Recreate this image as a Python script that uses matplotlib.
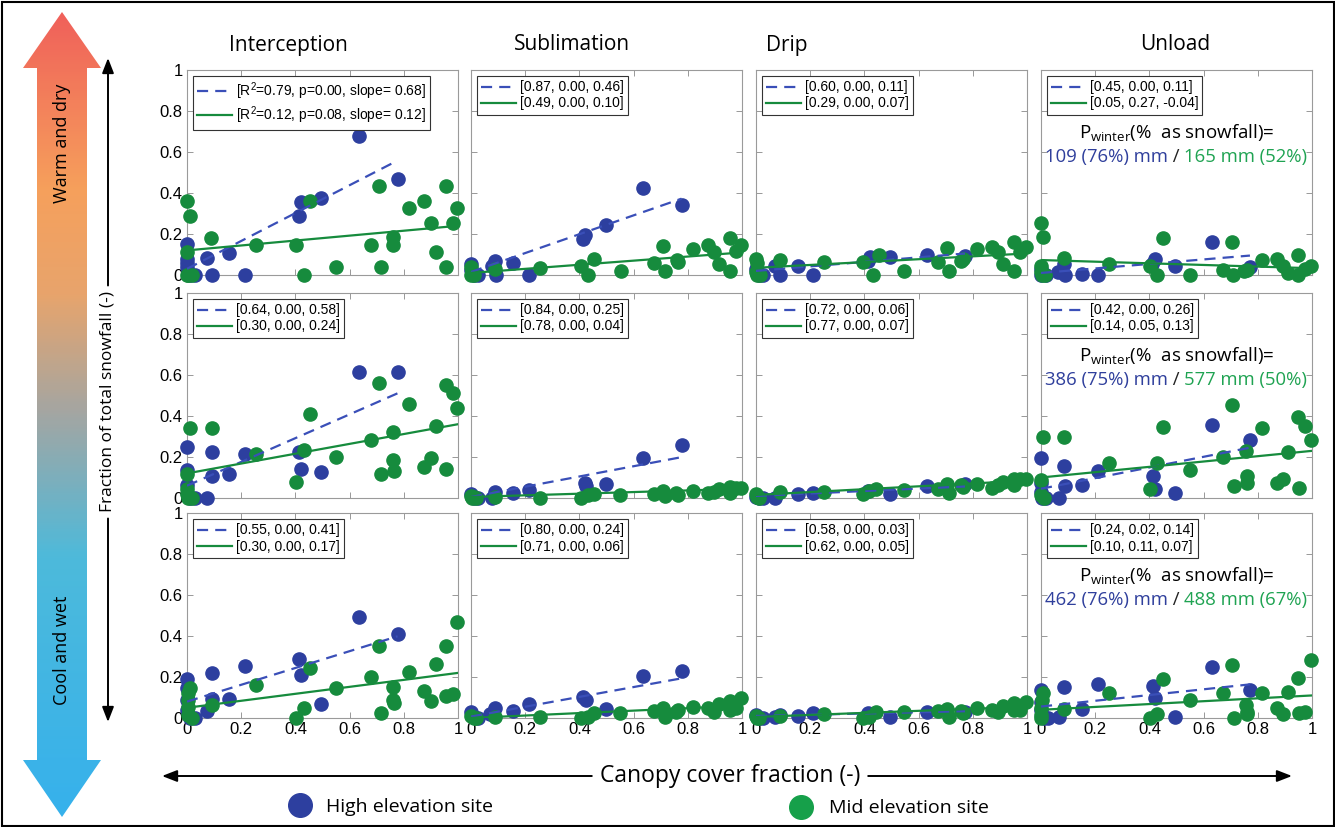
import numpy as np
import matplotlib
matplotlib.use("Agg")
import matplotlib.pyplot as plt
from matplotlib.patches import Polygon, Rectangle
from matplotlib.colors import LinearSegmentedColormap

plt.rcParams['mathtext.default'] = 'regular'

# ---------------- data ----------------
processes = ["Interception", "Sublimation", "Drip", "Unload"]
tick_vals = [0, 0.2, 0.4, 0.6, 0.8, 1]
tick_labels = ["0", "0.2", "0.4", "0.6", "0.8", "1"]

# Row 1 (warm and dry)
int1_hx = [0, 0, 0, 0, 0.01, 0.03, 0.073, 0.091, 0.156, 0.215, 0.415, 0.42, 0.496, 0.635, 0.777]
int1_hy = [0.15, 0.078, 0.058, 0.04, 0, 0, 0.084, 0, 0.105, 0, 0.288, 0.356, 0.377, 0.68, 0.466]
int1_mx = [0, 0.01, 0, 0, 0.005, 0.017, 0.09, 0.254, 0.404, 0.43, 0.455, 0.55, 0.678, 0.709, 0.715, 0.76, 0.76, 0.82, 0.875, 0.9, 0.918, 0.955, 0.955, 0.98, 0.996]
int1_my = [0.36, 0.29, 0.11, 0, 0, 0, 0.18, 0.146, 0.146, 0, 0.36, 0.037, 0.146, 0.434, 0.037, 0.183, 0.146, 0.325, 0.36, 0.256, 0.11, 0.434, 0.037, 0.256, 0.325]

sub1_hx = [0, 0, 0.01, 0.027, 0.076, 0.089, 0.091, 0.156, 0.215, 0.414, 0.42, 0.498, 0.636, 0.777]
sub1_hy = [0.053, 0.026, 0, 0, 0.042, 0.07, 0, 0.058, 0, 0.175, 0.196, 0.243, 0.426, 0.341]
sub1_mx = [0, 0.005, 0.01, 0, 0.089, 0.255, 0.406, 0.433, 0.455, 0.552, 0.677, 0.71, 0.716, 0.759, 0.763, 0.82, 0.876, 0.898, 0.915, 0.956, 0.956, 0.978, 0.996]
sub1_my = [0.04, 0.015, 0, 0, 0.03, 0.034, 0.045, 0, 0.08, 0.02, 0.058, 0.14, 0.02, 0.075, 0.062, 0.126, 0.147, 0.113, 0.053, 0.18, 0.02, 0.118, 0.147]

dri1_hx = [0, 0.01, 0.027, 0.07, 0.09, 0.154, 0.212, 0.415, 0.42, 0.494, 0.63, 0.771]
dri1_hy = [0.03, 0, 0, 0.042, 0, 0.042, 0, 0.07, 0.086, 0.086, 0.1, 0.094]
dri1_mx = [0, 0.005, 0, 0.005, 0.015, 0.089, 0.252, 0.394, 0.43, 0.455, 0.546, 0.673, 0.706, 0.712, 0.755, 0.762, 0.817, 0.872, 0.894, 0.912, 0.952, 0.952, 0.974, 0.995]
dri1_my = [0.078, 0.058, 0.013, 0, 0, 0.074, 0.061, 0.065, 0, 0.1, 0.02, 0.061, 0.134, 0.02, 0.07, 0.08, 0.126, 0.139, 0.113, 0.053, 0.162, 0.02, 0.113, 0.139]

unl1_hx = [0, 0, 0.02, 0.064, 0.086, 0.089, 0.15, 0.212, 0.408, 0.42, 0.494, 0.63, 0.771]
unl1_hy = [0.03, 0, 0, 0.013, 0.053, 0, 0.005, 0, 0.053, 0.078, 0.045, 0.163, 0.037]
unl1_mx = [0, 0.006, 0, 0, 0.015, 0.003, 0.086, 0.252, 0.402, 0.427, 0.451, 0.548, 0.673, 0.703, 0.71, 0.749, 0.759, 0.817, 0.87, 0.894, 0.91, 0.95, 0.95, 0.974, 0.995]
unl1_my = [0.252, 0.183, 0.045, 0.013, 0, 0, 0.081, 0.052, 0.042, 0, 0.181, 0, 0.026, 0.162, 0, 0.02, 0.026, 0.074, 0.078, 0.042, 0.008, 0.097, 0, 0.03, 0.045]

# Row 2
int2_hx = [0, 0, 0, 0.01, 0.03, 0.073, 0.091, 0.091, 0.156, 0.215, 0.415, 0.422, 0.496, 0.635, 0.777]
int2_hy = [0.248, 0.136, 0.062, 0, 0, 0, 0.222, 0.108, 0.117, 0.215, 0.223, 0.141, 0.128, 0.617, 0.617]
int2_mx = [0.011, 0, 0, 0, 0.005, 0.017, 0.091, 0.254, 0.404, 0.43, 0.455, 0.55, 0.678, 0.709, 0.715, 0.76, 0.76, 0.765, 0.82, 0.875, 0.9, 0.918, 0.955, 0.955, 0.98, 0.996]
int2_my = [0.342, 0.115, 0.046, 0.02, 0, 0, 0.342, 0.217, 0.076, 0.232, 0.412, 0.199, 0.282, 0.563, 0.115, 0.322, 0.186, 0.133, 0.46, 0.149, 0.194, 0.35, 0.552, 0.141, 0.514, 0.44]

sub2_hx = [0, 0.01, 0.027, 0.076, 0.089, 0.156, 0.215, 0.42, 0.424, 0.498, 0.636, 0.777]
sub2_hy = [0.021, 0, 0, 0, 0.03, 0.026, 0.038, 0.071, 0.059, 0.067, 0.194, 0.259]
sub2_mx = [0, 0.005, 0.01, 0.02, 0.089, 0.255, 0.406, 0.433, 0.455, 0.55, 0.677, 0.71, 0.716, 0.755, 0.763, 0.82, 0.876, 0.898, 0.915, 0.956, 0.956, 0.978, 0.996]
sub2_my = [0.01, 0, 0.005, 0, 0.005, 0.002, 0, 0.013, 0.018, 0.013, 0.02, 0.033, 0.01, 0.026, 0.016, 0.034, 0.025, 0.03, 0.043, 0.054, 0.025, 0.051, 0.051]

dri2_hx = [0, 0.01, 0.027, 0.07, 0.154, 0.212, 0.415, 0.494, 0.63, 0.771]
dri2_hy = [0.005, 0, 0, 0, 0.021, 0.026, 0.034, 0.021, 0.057, 0.07]
dri2_mx = [0, 0.005, 0.01, 0.089, 0.252, 0.394, 0.418, 0.443, 0.546, 0.673, 0.706, 0.712, 0.755, 0.762, 0.817, 0.872, 0.894, 0.912, 0.952, 0.952, 0.974, 0.995]
dri2_my = [0.021, 0.005, 0, 0.03, 0.03, 0.021, 0.033, 0.043, 0.038, 0.046, 0.066, 0.025, 0.062, 0.054, 0.07, 0.049, 0.062, 0.079, 0.095, 0.062, 0.092, 0.095]

unl2_hx = [0, 0, 0, 0.005, 0.02, 0.068, 0.086, 0.089, 0.15, 0.212, 0.412, 0.42, 0.494, 0.63, 0.771]
unl2_hy = [0.194, 0.071, 0.03, 0, 0, 0, 0.158, 0.059, 0.062, 0.133, 0.108, 0.046, 0.026, 0.355, 0.281]
unl2_mx = [0.006, 0, 0, 0.01, 0.086, 0.251, 0.402, 0.427, 0.451, 0.548, 0.673, 0.703, 0.713, 0.755, 0.759, 0.759, 0.817, 0.87, 0.894, 0.91, 0.95, 0.952, 0.974, 0.995]
unl2_my = [0.297, 0.087, 0.013, 0, 0.296, 0.172, 0.043, 0.172, 0.345, 0.136, 0.199, 0.456, 0.059, 0.227, 0.108, 0.071, 0.342, 0.071, 0.095, 0.223, 0.394, 0.049, 0.35, 0.281]

# Row 3 (cool and wet)
int3_hx = [0, 0, 0, 0, 0.01, 0.03, 0.073, 0.091, 0.091, 0.156, 0.215, 0.412, 0.422, 0.496, 0.635, 0.777]
int3_hy = [0.19, 0.145, 0.088, 0.039, 0, 0, 0.036, 0.218, 0.091, 0.093, 0.255, 0.286, 0.21, 0.067, 0.494, 0.408]
int3_mx = [0.011, 0.005, 0.005, 0.005, 0.005, 0.017, 0.091, 0.254, 0.404, 0.43, 0.455, 0.55, 0.678, 0.709, 0.715, 0.76, 0.76, 0.765, 0.82, 0.875, 0.9, 0.918, 0.955, 0.955, 0.98, 0.996]
int3_my = [0.145, 0.12, 0.088, 0.055, 0.015, 0, 0.063, 0.161, 0, 0.047, 0.246, 0.145, 0.202, 0.351, 0.023, 0.153, 0.088, 0.072, 0.223, 0.133, 0.085, 0.262, 0.353, 0.107, 0.117, 0.47]

sub3_hx = [0, 0.01, 0.027, 0.07, 0.089, 0.156, 0.215, 0.414, 0.424, 0.498, 0.636, 0.777]
sub3_hy = [0.031, 0.007, 0, 0.018, 0.047, 0.034, 0.067, 0.104, 0.088, 0.042, 0.207, 0.231]
sub3_mx = [0, 0.01, 0.02, 0.089, 0.255, 0.406, 0.433, 0.455, 0.55, 0.677, 0.71, 0.716, 0.755, 0.763, 0.82, 0.876, 0.898, 0.915, 0.956, 0.956, 0.978, 0.996]
sub3_my = [0.01, 0, 0, 0.003, 0.007, 0, 0.007, 0.023, 0.023, 0.036, 0.047, 0.007, 0.028, 0.039, 0.052, 0.047, 0.031, 0.068, 0.083, 0.039, 0.047, 0.099]

dri3_hx = [0, 0.01, 0.027, 0.07, 0.089, 0.154, 0.212, 0.415, 0.494, 0.63, 0.771]
dri3_hy = [0.015, 0, 0, 0.007, 0.015, 0.01, 0.023, 0.023, 0.007, 0.031, 0.031]
dri3_mx = [0, 0.005, 0.01, 0.089, 0.252, 0.394, 0.418, 0.443, 0.546, 0.673, 0.706, 0.712, 0.755, 0.762, 0.817, 0.872, 0.894, 0.912, 0.952, 0.952, 0.974, 0.995]
dri3_my = [0.01, 0, 0, 0.01, 0.018, 0, 0.007, 0.031, 0.028, 0.036, 0.044, 0.007, 0.036, 0.023, 0.047, 0.039, 0.028, 0.06, 0.075, 0.039, 0.039, 0.08]

unl3_hx = [0, 0, 0, 0.01, 0.027, 0.068, 0.085, 0.15, 0.21, 0.412, 0.42, 0.494, 0.63, 0.771]
unl3_hy = [0.137, 0.08, 0.04, 0, 0, 0.007, 0.153, 0.044, 0.164, 0.156, 0.096, 0.007, 0.247, 0.137]
unl3_mx = [0.006, 0.003, 0, 0, 0, 0.086, 0.251, 0.402, 0.427, 0.451, 0.548, 0.673, 0.703, 0.713, 0.755, 0.759, 0.759, 0.817, 0.87, 0.894, 0.91, 0.95, 0.952, 0.974, 0.995]
unl3_my = [0.12, 0.088, 0.047, 0.015, 0, 0.042, 0.124, 0, 0.018, 0.189, 0.088, 0.124, 0.259, 0, 0.062, 0.028, 0.018, 0.12, 0.047, 0.018, 0.125, 0.193, 0.023, 0.028, 0.283]

# regression statistics [R2, p, slope] (rows x processes) and intercepts
high_r2 = [[0.79, 0.87, 0.60, 0.45], [0.64, 0.84, 0.72, 0.42], [0.55, 0.80, 0.58, 0.24]]
high_p = [[0.00, 0.00, 0.00, 0.00], [0.00, 0.00, 0.00, 0.00], [0.00, 0.00, 0.00, 0.02]]
high_slope = [[0.68, 0.46, 0.11, 0.11], [0.58, 0.25, 0.06, 0.26], [0.41, 0.24, 0.03, 0.14]]
high_icpt = [[0.03, 0.015, 0.02, 0.01], [0.06, 0.005, 0.01, 0.045], [0.08, 0.007, 0.01, 0.056]]
mid_r2 = [[0.12, 0.49, 0.29, 0.05], [0.30, 0.78, 0.77, 0.14], [0.30, 0.71, 0.62, 0.10]]
mid_p = [[0.08, 0.00, 0.00, 0.27], [0.00, 0.00, 0.00, 0.05], [0.00, 0.00, 0.00, 0.11]]
mid_slope = [[0.12, 0.10, 0.07, -0.04], [0.24, 0.04, 0.07, 0.13], [0.17, 0.06, 0.05, 0.07]]
mid_icpt = [[0.12, 0.01, 0.035, 0.073], [0.12, 0.005, 0.015, 0.10], [0.05, 0.0, 0.005, 0.04]]

# winter precipitation per row
p_high = [109, 386, 462]
pct_high = [76, 75, 76]
p_mid = [165, 577, 488]
pct_mid = [52, 50, 67]

high_x = [[int1_hx, sub1_hx, dri1_hx, unl1_hx], [int2_hx, sub2_hx, dri2_hx, unl2_hx], [int3_hx, sub3_hx, dri3_hx, unl3_hx]]
high_y = [[int1_hy, sub1_hy, dri1_hy, unl1_hy], [int2_hy, sub2_hy, dri2_hy, unl2_hy], [int3_hy, sub3_hy, dri3_hy, unl3_hy]]
mid_x = [[int1_mx, sub1_mx, dri1_mx, unl1_mx], [int2_mx, sub2_mx, dri2_mx, unl2_mx], [int3_mx, sub3_mx, dri3_mx, unl3_mx]]
mid_y = [[int1_my, sub1_my, dri1_my, unl1_my], [int2_my, sub2_my, dri2_my, unl2_my], [int3_my, sub3_my, dri3_my, unl3_my]]

# ---------------- style ----------------
BLUE = '#2d3f9f'
GREEN = '#168b3d'
BLUE_T = '#2f3f9c'
GREEN_T = '#1fa352'
SPINE = '#9a9a9a'
TEXTFONT = 'Open Sans'
AXFONT = 'Liberation Sans'

W, H = 1335, 827
fig = plt.figure(figsize=(W / 100, H / 100), dpi=100)
fig.patch.set_facecolor('white')

bg = fig.add_axes([0, 0, 1, 1], zorder=0)
bg.axis('off')

# gradient double arrow
cmap = LinearSegmentedColormap.from_list('wc', [
    (0.0, '#f0605a'), (0.22, '#f6a05c'), (0.35, '#e8a46c'),
    (0.5, '#a3a6a3'), (0.68, '#4dbadb'), (1.0, '#36b1ec')])
arrow_pts = [(62, 12), (101, 68), (87, 68), (87, 760), (101, 760), (62, 817),
             (23, 760), (37, 760), (37, 68), (23, 68)]
poly = Polygon(arrow_pts, closed=True, facecolor='none', edgecolor='none', transform=bg.transData)
bg.add_patch(poly)
grad = np.linspace(0, 1, 300).reshape(-1, 1)
im = bg.imshow(grad, extent=(20, 105, 818, 10), cmap=cmap, aspect='auto', zorder=1, interpolation='bilinear')
im.set_clip_path(poly)
bg.set_xlim(0, W)
bg.set_ylim(H, 0)
bg.text(62, 143, 'Warm and dry', rotation=90, ha='center', va='center', fontsize=13, family=TEXTFONT, zorder=3)
bg.text(62, 650, 'Cool and wet', rotation=90, ha='center', va='center', fontsize=13, family=TEXTFONT, zorder=3)

# axis labels with broken double arrows around them
renderer = fig.canvas.get_renderer()
ylab = bg.text(108, 402, 'Fraction of total snowfall (-)', rotation=90, ha='center', va='center',
               fontsize=12.5, family=TEXTFONT)
xlab = bg.text(730, 776, 'Canopy cover fraction (-)', ha='center', va='center', fontsize=16.5,
               family=TEXTFONT)
ap = dict(arrowstyle='-|>,head_width=0.35,head_length=0.9', color='black', lw=1.4, shrinkA=0, shrinkB=0)
yb = ylab.get_window_extent(renderer)
ytop, ybot = H - yb.y1, H - yb.y0
bg.annotate('', xy=(108, 58), xytext=(108, ytop - 6), arrowprops=ap)
bg.annotate('', xy=(108, 722), xytext=(108, ybot + 6), arrowprops=ap)
xbb = xlab.get_window_extent(renderer)
bg.annotate('', xy=(162, 776), xytext=(xbb.x0 - 8, 776), arrowprops=ap)
bg.annotate('', xy=(1292, 776), xytext=(xbb.x1 + 8, 776), arrowprops=ap)

# bottom legend
bg.plot([300], [805], 'o', ms=17, color=BLUE, mec=BLUE)
bg.text(326, 807, 'High elevation site', ha='left', va='center', fontsize=14, family=TEXTFONT)
bg.plot([801], [807], 'o', ms=17, color='#16a04a', mec='#16a04a')
bg.text(829, 808, 'Mid elevation site', ha='left', va='center', fontsize=14, family=TEXTFONT)

# column titles
for name, cx in zip(processes, [288, 572, 787, 1175]):
    bg.text(cx, 45, name, ha='center', va='center', fontsize=15, family=TEXTFONT)

# figure border
bg.add_patch(Rectangle((1.5, 1.5), W - 3, H - 3, fill=False, edgecolor='black', lw=1.5))

# ---------------- panels ----------------
col_left = [187, 471, 756, 1041]
row_top = [70, 293, 513]
aw, ah = 271, 205

for r in range(3):
    for c in range(4):
        ax = fig.add_axes([col_left[c] / W, 1 - (row_top[r] + ah) / H, aw / W, ah / H], zorder=2)
        ax.set_xlim(0, 1)
        ax.set_ylim(0, 1)
        ax.plot(high_x[r][c], high_y[r][c], 'o', ms=9.5, color=BLUE, mec=BLUE, clip_on=False, zorder=3)
        ax.plot(mid_x[r][c], mid_y[r][c], 'o', ms=9.5, color=GREEN, mec=GREEN, clip_on=False, zorder=4)
        xb = np.array([0, max(high_x[r][c])])
        xg = np.array([0, 1])
        lb, = ax.plot(xb, high_icpt[r][c] + high_slope[r][c] * xb, color='#3a4fb8', lw=1.6,
                      linestyle=(0, (5, 3.2)), zorder=5)
        lg, = ax.plot(xg, mid_icpt[r][c] + mid_slope[r][c] * xg, color=GREEN, lw=1.6, zorder=6)
        if r == 0 and c == 0:
            lab_b = r'[R$^2$=%.2f, p=%.2f, slope= %.2f]' % (high_r2[r][c], high_p[r][c], high_slope[r][c])
            lab_g = r'[R$^2$=%.2f, p=%.2f, slope= %.2f]' % (mid_r2[r][c], mid_p[r][c], mid_slope[r][c])
        else:
            lab_b = '[%.2f, %.2f, %.2f]' % (high_r2[r][c], high_p[r][c], high_slope[r][c])
            lab_g = '[%.2f, %.2f, %.2f]' % (mid_r2[r][c], mid_p[r][c], mid_slope[r][c])
        leg = ax.legend([lb, lg], [lab_b, lab_g], loc='upper left',
                        prop={'family': AXFONT, 'size': 10},
                        fancybox=False, framealpha=1, edgecolor='#333333', borderaxespad=0.45,
                        handlelength=2.5, handletextpad=0.25, borderpad=0.3, labelspacing=0.15)
        leg.get_frame().set_linewidth(0.8)
        leg.set_zorder(10)

        ax.set_xticks(tick_vals)
        ax.set_yticks(tick_vals)
        ax.tick_params(direction='in', top=True, right=True, length=4, width=0.6, color='#888888',
                       labelsize=12, pad=3)
        if c == 0:
            ax.set_yticklabels(tick_labels, family=AXFONT)
        else:
            ax.set_yticklabels([])
        if r == 2:
            ax.set_xticklabels(tick_labels, family=AXFONT)
        else:
            ax.set_xticklabels([])
        for s in ax.spines.values():
            s.set_color(SPINE)
            s.set_linewidth(0.8)

        if c == 3:
            ax.text(0.5, 0.668, r'$P_{winter}$(%  as snowfall)=', transform=ax.transAxes,
                    ha='center', va='baseline', fontsize=13.5, family=TEXTFONT, zorder=8)
            t1 = ax.text(0.016, 0.55, '%d (%d%%) mm' % (p_high[r], pct_high[r]), transform=ax.transAxes,
                         ha='left', va='baseline', fontsize=13.3, family=TEXTFONT, color=BLUE_T, zorder=8)
            t2 = ax.annotate(' / ', xy=(1, 0), xycoords=t1, ha='left', va='bottom',
                             fontsize=13.3, family=TEXTFONT, color='#222222', zorder=8)
            ax.annotate('%d mm (%d%%)' % (p_mid[r], pct_mid[r]), xy=(1, 0), xycoords=t2, ha='left',
                        va='bottom', fontsize=13.3, family=TEXTFONT, color=GREEN_T, zorder=8)

fig.savefig('out.png', dpi=100, facecolor='white')
